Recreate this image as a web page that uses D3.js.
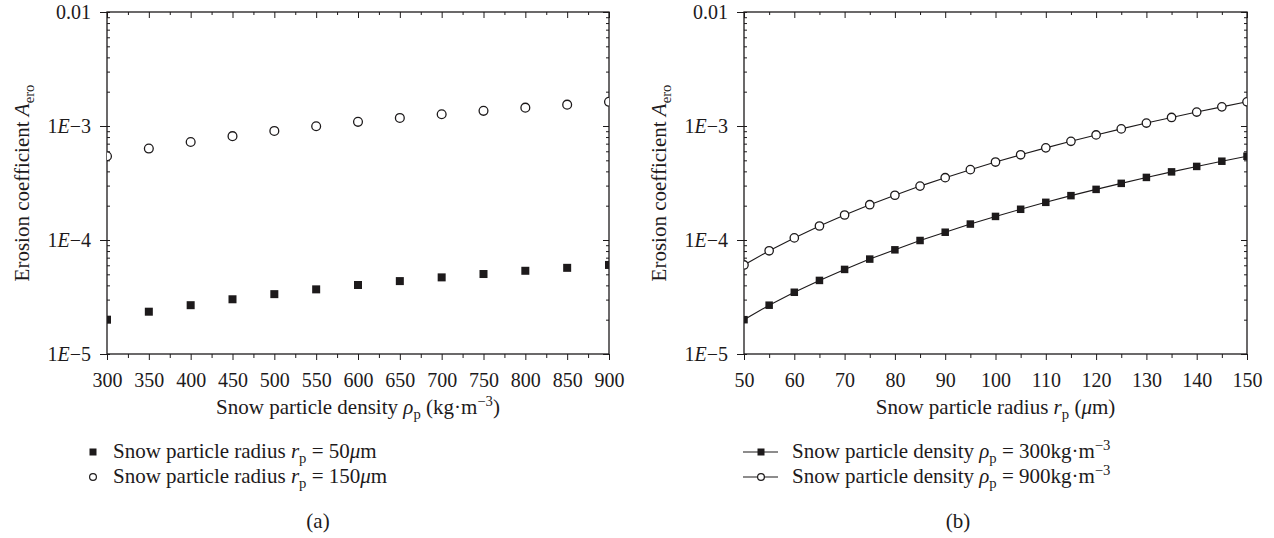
<!DOCTYPE html>
<html>
<head>
<meta charset="utf-8">
<script src="https://cdn.jsdelivr.net/npm/d3@7"></script>
<style>
  html, body { margin: 0; padding: 0; background: #fff; }
  svg { display: block; }
  text { font-family: "Liberation Serif", "Times New Roman", "DejaVu Serif", serif; fill: #1d1a1b; }
</style>
</head>
<body>
<svg id="chart" width="1274" height="538"></svg>
<script>
// ---------- data ----------
const densities = [300, 350, 400, 450, 500, 550, 600, 650, 700, 750, 800, 850, 900];
const radius50 = [2.0e-5, 2.35e-5, 2.68e-5, 3.02e-5, 3.35e-5, 3.69e-5, 4.03e-5, 4.36e-5, 4.70e-5, 5.03e-5, 5.37e-5, 5.70e-5, 6.04e-5];
const radius150 = [5.43e-4, 6.34e-4, 7.24e-4, 8.15e-4, 9.05e-4, 9.96e-4, 1.087e-3, 1.177e-3, 1.268e-3, 1.358e-3, 1.449e-3, 1.539e-3, 1.63e-3];

const radii = [50, 55, 60, 65, 70, 75, 80, 85, 90, 95, 100, 105, 110, 115, 120, 125, 130, 135, 140, 145, 150];
const density300 = [2.0e-5, 2.68e-5, 3.48e-5, 4.42e-5, 5.52e-5, 6.8e-5, 8.2e-5, 9.9e-5, 1.17e-4, 1.38e-4, 1.61e-4, 1.86e-4, 2.14e-4, 2.45e-4, 2.78e-4, 3.14e-4, 3.54e-4, 3.96e-4, 4.42e-4, 4.91e-4, 5.43e-4];
const density900 = [6.04e-5, 8.04e-5, 1.043e-4, 1.327e-4, 1.657e-4, 2.04e-4, 2.47e-4, 2.97e-4, 3.52e-4, 4.14e-4, 4.83e-4, 5.59e-4, 6.43e-4, 7.34e-4, 8.35e-4, 9.43e-4, 1.061e-3, 1.188e-3, 1.325e-3, 1.472e-3, 1.63e-3];

const yMajorTicks = [1e-5, 1e-4, 1e-3, 1e-2];
const yTickLabels = ["1E−5", "1E−4", "1E−3", "0.01"];
const xTicksA = [300, 350, 400, 450, 500, 550, 600, 650, 700, 750, 800, 850, 900];
const xMinorA = [325, 375, 425, 475, 525, 575, 625, 675, 725, 775, 825, 875];
const xTicksB = [50, 60, 70, 80, 90, 100, 110, 120, 130, 140, 150];
const xMinorB = [55, 65, 75, 85, 95, 105, 115, 125, 135, 145];

// ---------- setup ----------
const svg = d3.select("#chart");
const FS = 21;      // titles / legend
const TFS = 20;     // tick labels
const INK = "#1d1a1b";
const SERIF = "Liberation Serif, Times New Roman, DejaVu Serif, serif";
const plotTop = 12, plotBottom = 354;

const yMinor = [];
[1e-5, 1e-4, 1e-3].forEach(d => { for (let k = 2; k <= 9; k++) yMinor.push(d * k); });

function rich(textSel, parts, fs) {
  let cur = 0;
  parts.forEach(p => {
    const target = p.sub ? 5 : (p.sup ? -8 : 0);
    const ts = textSel.append("tspan").text(p.t);
    if (target !== cur) ts.attr("dy", target - cur);
    cur = target;
    if (p.sub || p.sup) ts.attr("font-size", fs * 0.7);
    if (p.i) ts.attr("font-style", "italic");
  });
}

function panel(cfg) {
  const g = svg.append("g");
  const x = d3.scaleLinear().domain(cfg.xDomain).range([cfg.left, cfg.right]);
  const y = d3.scaleLog().domain([1e-5, 1e-2]).range([plotBottom, plotTop]);

  const clipId = "clip" + cfg.id;
  svg.append("clipPath").attr("id", clipId).append("rect")
    .attr("x", cfg.left).attr("y", plotTop).attr("width", cfg.right - cfg.left).attr("height", plotBottom - plotTop);

  const styleAxis = a => {
    a.select(".domain").remove();
    a.attr("font-family", SERIF);
    a.selectAll(".tick line").attr("stroke", INK).attr("stroke-width", 1);
  };

  // bottom axis (outward ticks, labels)
  const bMaj = g.append("g").attr("transform", `translate(0,${plotBottom})`)
    .call(d3.axisBottom(x).tickValues(cfg.xTicks).tickSize(6).tickPadding(13).tickFormat(d3.format("d")));
  styleAxis(bMaj);
  bMaj.selectAll("text").attr("font-size", TFS).attr("fill", INK);
  const bMin = g.append("g").attr("transform", `translate(0,${plotBottom})`)
    .call(d3.axisBottom(x).tickValues(cfg.xMinor).tickSize(4).tickFormat(""));
  styleAxis(bMin);

  // top axis (inward ticks)
  const tMaj = g.append("g").attr("transform", `translate(0,${plotTop})`)
    .call(d3.axisBottom(x).tickValues(cfg.xTicks).tickSize(6).tickFormat(""));
  styleAxis(tMaj);
  const tMin = g.append("g").attr("transform", `translate(0,${plotTop})`)
    .call(d3.axisBottom(x).tickValues(cfg.xMinor).tickSize(3).tickFormat(""));
  styleAxis(tMin);

  // left axis: major outward with labels, all ticks inward short
  const lMaj = g.append("g").attr("transform", `translate(${cfg.left},0)`)
    .call(d3.axisLeft(y).tickValues(yMajorTicks).tickSize(7).tickPadding(9).tickFormat(""));
  styleAxis(lMaj);
  lMaj.selectAll(".tick text").each(function(d) {
    const t = d3.select(this).attr("font-size", TFS).attr("fill", INK);
    const lab = yTickLabels[yMajorTicks.indexOf(d)];
    if (lab.startsWith("1E")) {
      rich(t, [{t: "1"}, {t: "E", i: true}, {t: "−" + lab.slice(3)}], TFS);
    } else {
      t.text(lab);
    }
  });
  const lIn = g.append("g").attr("transform", `translate(${cfg.left},0)`)
    .call(d3.axisRight(y).tickValues(yMajorTicks.concat(yMinor)).tickSize(3).tickFormat(""));
  styleAxis(lIn);

  // right axis (inward ticks)
  const rMaj = g.append("g").attr("transform", `translate(${cfg.right},0)`)
    .call(d3.axisLeft(y).tickValues(yMajorTicks).tickSize(6).tickFormat(""));
  styleAxis(rMaj);
  const rMin = g.append("g").attr("transform", `translate(${cfg.right},0)`)
    .call(d3.axisLeft(y).tickValues(yMinor).tickSize(3).tickFormat(""));
  styleAxis(rMin);

  // frame
  g.append("rect").attr("x", cfg.left).attr("y", plotTop)
    .attr("width", cfg.right - cfg.left).attr("height", plotBottom - plotTop)
    .attr("fill", "none").attr("stroke", INK).attr("stroke-width", 1.3);

  // data
  const plot = g.append("g").attr("clip-path", `url(#${clipId})`);
  cfg.series.forEach(s => {
    const pts = cfg.xs.map((v, i) => [v, s.values[i]]);
    if (cfg.lines) {
      plot.append("path").datum(pts)
        .attr("d", d3.line().x(d => x(d[0])).y(d => y(d[1])))
        .attr("fill", "none").attr("stroke", INK).attr("stroke-width", 1.1);
    }
    if (s.marker === "square") {
      plot.selectAll(null).data(pts).join("rect")
        .attr("x", d => x(d[0]) - cfg.sq / 2).attr("y", d => y(d[1]) - cfg.sq / 2)
        .attr("width", cfg.sq).attr("height", cfg.sq).attr("fill", INK);
    } else {
      plot.selectAll(null).data(pts).join("circle")
        .attr("cx", d => x(d[0])).attr("cy", d => y(d[1])).attr("r", cfg.cr)
        .attr("fill", "#fff").attr("stroke", INK).attr("stroke-width", 1.3);
    }
  });

  // y title
  const yt = g.append("text")
    .attr("transform", `translate(${cfg.left - 78},${(plotTop + plotBottom) / 2}) rotate(-90)`)
    .attr("text-anchor", "middle").attr("font-size", FS);
  rich(yt, [{t: "Erosion coefficient "}, {t: "A", i: true}, {t: "ero", sub: true}], FS);

  // x title
  const xt = g.append("text")
    .attr("x", (cfg.left + cfg.right) / 2).attr("y", 414)
    .attr("text-anchor", "middle").attr("font-size", FS);
  rich(xt, cfg.xTitle, FS);

  // legend
  cfg.legend.forEach((L, i) => {
    const ly = 452 + i * 25;
    if (cfg.lines) {
      g.append("line").attr("x1", cfg.legX - 18).attr("x2", cfg.legX + 17)
        .attr("y1", ly).attr("y2", ly).attr("stroke", INK).attr("stroke-width", 1.1);
    }
    if (L.marker === "square") {
      g.append("rect").attr("x", cfg.legX - 3.5).attr("y", ly - 3.5)
        .attr("width", 7).attr("height", 7).attr("fill", INK);
    } else {
      g.append("circle").attr("cx", cfg.legX).attr("cy", ly).attr("r", 3.4)
        .attr("fill", "#fff").attr("stroke", INK).attr("stroke-width", 1.2);
    }
    const lt = g.append("text").attr("x", cfg.legTextX).attr("y", ly + 6).attr("font-size", FS);
    rich(lt, L.parts, FS);
  });

  g.append("text").attr("x", cfg.capX).attr("y", 528).attr("text-anchor", "middle")
    .attr("font-size", FS).text(cfg.caption);
}

panel({
  id: "a", left: 107, right: 609, xDomain: [300, 900],
  xTicks: xTicksA, xMinor: xMinorA, xs: densities, lines: false, sq: 8, cr: 4.4,
  series: [{values: radius50, marker: "square"}, {values: radius150, marker: "circle"}],
  xTitle: [{t: "Snow particle density "}, {t: "ρ", i: true}, {t: "p", sub: true}, {t: " (kg·m"}, {t: "−3", sup: true}, {t: ")"}],
  legX: 93, legTextX: 113,
  legend: [
    {marker: "square", parts: [{t: "Snow particle radius "}, {t: "r", i: true}, {t: "p", sub: true}, {t: " = 50"}, {t: "μ", i: true}, {t: "m"}]},
    {marker: "circle", parts: [{t: "Snow particle radius "}, {t: "r", i: true}, {t: "p", sub: true}, {t: " = 150"}, {t: "μ", i: true}, {t: "m"}]}
  ],
  capX: 318, caption: "(a)"
});

panel({
  id: "b", left: 744, right: 1247, xDomain: [50, 150],
  xTicks: xTicksB, xMinor: xMinorB, xs: radii, lines: true, sq: 7.5, cr: 4.2,
  series: [{values: density300, marker: "square"}, {values: density900, marker: "circle"}],
  xTitle: [{t: "Snow particle radius "}, {t: "r", i: true}, {t: "p", sub: true}, {t: " ("}, {t: "μ", i: true}, {t: "m)"}],
  legX: 761, legTextX: 792,
  legend: [
    {marker: "square", parts: [{t: "Snow particle density "}, {t: "ρ", i: true}, {t: "p", sub: true}, {t: " = 300kg·m"}, {t: "−3", sup: true}]},
    {marker: "circle", parts: [{t: "Snow particle density "}, {t: "ρ", i: true}, {t: "p", sub: true}, {t: " = 900kg·m"}, {t: "−3", sup: true}]}
  ],
  capX: 958, caption: "(b)"
});
</script>
</body>
</html>
